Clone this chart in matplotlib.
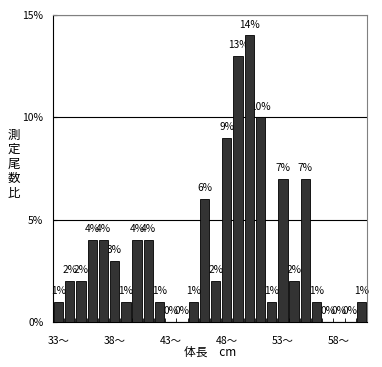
import matplotlib
matplotlib.use("Agg")
import matplotlib.pyplot as plt
import numpy as np

plt.rcParams['font.family'] = ['Noto Sans CJK JP', 'DejaVu Sans']

lengths = list(range(33, 61))
values = [1, 2, 2, 4, 4, 3, 1, 4, 4, 1, 0, 0, 1, 6, 2, 9, 13, 14, 10, 1, 7, 2, 7, 1, 0, 0, 0, 1]
tick_labels = ["33〜", "38〜", "43〜", "48〜", "53〜", "58〜"]
tick_values = [33, 38, 43, 48, 53, 58]
ylabel_chars = ["測", "定", "尾", "数", "比"]

W, H = 382, 367
fig = plt.figure(figsize=(W / 100, H / 100), dpi=100)
left, right, top, bottom = 53, 367, 15, 322
ax = fig.add_axes([left / W, 1 - bottom / H, (right - left) / W, (bottom - top) / H])

x = np.arange(len(values))
bw = 0.83
ax.bar(x, values, width=bw, color='#333333', edgecolor='black', linewidth=0.6, zorder=3)
ax.set_xlim(-bw / 2, len(values) - 1 + bw / 2)
ax.set_ylim(0, 15)

for xi, v in zip(x, values):
    ax.text(xi, v + 0.28, f"{v}%", ha='center', va='bottom', fontsize=7.3, zorder=2)

ax.set_yticks([0, 5, 10, 15])
ax.set_yticklabels(["0%", "5%", "10%", "15%"], fontsize=7.5)
ax.yaxis.grid(True, color='black', linewidth=0.8, zorder=1)
ax.tick_params(axis='y', direction='in', length=3, pad=7)

ax.set_xticks([lengths.index(t) for t in tick_values])
ax.set_xticklabels(tick_labels, fontsize=7.5)
ax.tick_params(axis='x', length=0, pad=10)
ax.set_xticks(np.arange(len(values) + 1) - 0.5, minor=True)
ax.tick_params(axis='x', which='minor', direction='in', length=3)

for s in ['top', 'right']:
    ax.spines[s].set_color('#808080')
for s in ['left', 'bottom']:
    ax.spines[s].set_color('black')

fig.text(210 / W, 1 - 352 / H, "体長　cm", ha='center', va='center', fontsize=8.5)
for i, ch in enumerate(ylabel_chars):
    fig.text(14 / W, 1 - (135 + i * 14.5) / H, ch, ha='center', va='center', fontsize=9)

fig.savefig("out.png", dpi=100)
